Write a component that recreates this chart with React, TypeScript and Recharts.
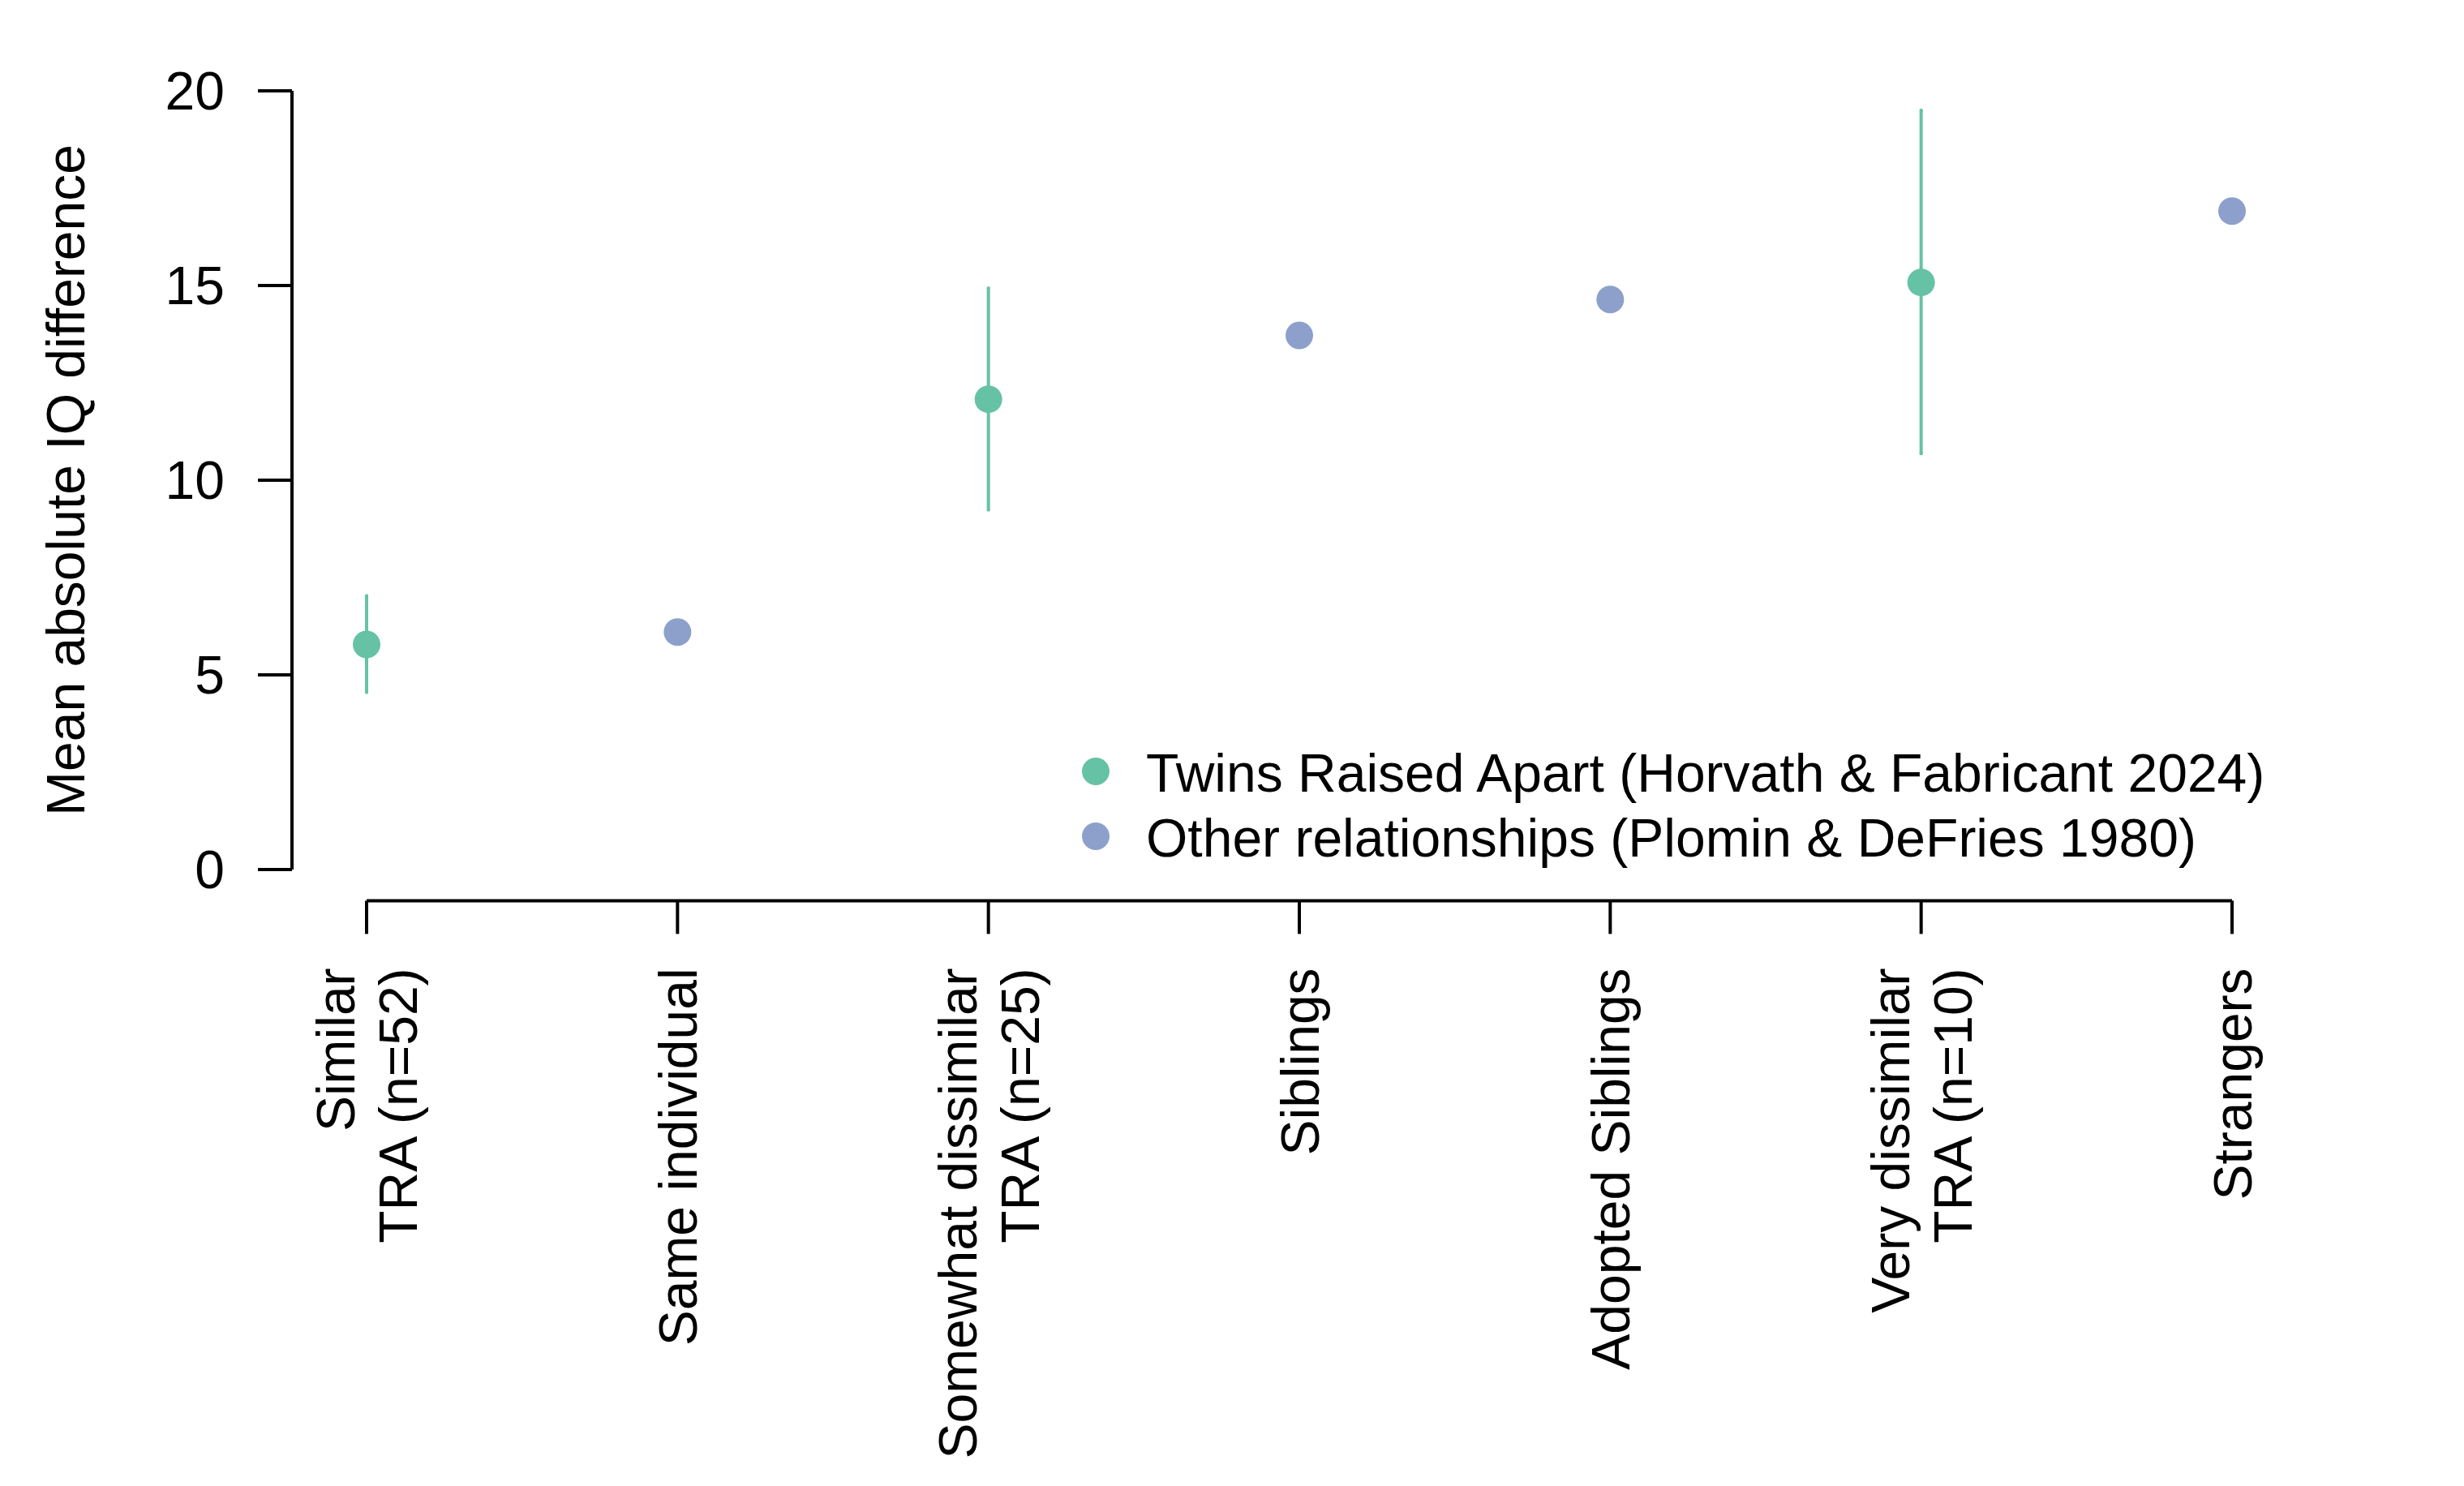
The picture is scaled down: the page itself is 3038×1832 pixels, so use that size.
import {
  ErrorBar,
  Legend,
  ReferenceLine,
  Scatter,
  ScatterChart,
  XAxis,
  YAxis,
} from "recharts";

// Categories along the x axis (multi-line labels split on "\n").
const categories = [
  "Similar\nTRA (n=52)",
  "Same individual",
  "Somewhat dissimilar\nTRA (n=25)",
  "Siblings",
  "Adopted Siblings",
  "Very dissimilar\nTRA (n=10)",
  "Strangers",
];

// Twins raised apart: mean absolute IQ difference with interval.
const twinIndex = [0, 2, 5];
const twinMean = [5.78, 12.08, 15.08];
const twinLow = [4.55, 9.24, 10.68];
const twinHigh = [7.03, 14.93, 19.5];

// Other relationships (Plomin & DeFries 1980).
const otherIndex = [1, 3, 4, 6];
const otherMean = [6.1, 13.72, 14.64, 16.91];

const yTicks = [0, 5, 10, 15, 20];

const seriesNames = [
  "Twins Raised Apart (Horvath & Fabricant 2024)",
  "Other relationships (Plomin & DeFries 1980)",
];

const GREEN = "#66c2a5";
const BLUE = "#8da0cb";
const seriesColors = [GREEN, BLUE];
const FONT = "'Liberation Sans', Arial, Helvetica, sans-serif";
const FONT_SIZE = 66;

const twinData = twinIndex.map((x, i) => ({
  x,
  y: twinMean[i],
  err: [twinMean[i] - twinLow[i], twinHigh[i] - twinMean[i]],
}));
const otherData = otherIndex.map((x, i) => ({ x, y: otherMean[i] }));

const xTickValues = categories.map((_, i) => i);

function CategoryTick({ x, y, payload }: { x: number; y: number; payload: { value: number } }) {
  const lines = categories[payload.value].split("\n");
  const spacing = 77;
  const start = (-(lines.length - 1) * spacing) / 2;
  return (
    <g transform={`translate(${x},${y}) rotate(-90)`}>
      {lines.map((line, i) => (
        <text
          key={i}
          x={0}
          y={start + i * spacing + FONT_SIZE * 0.358}
          textAnchor="end"
          fontFamily={FONT}
          fontSize={FONT_SIZE}
          fill="#000"
        >
          {line}
        </text>
      ))}
    </g>
  );
}

function YLabel({ viewBox }: { viewBox?: { x: number; y: number; width: number; height: number } }) {
  const cy = viewBox ? viewBox.y + viewBox.height / 2 : 591;
  const bx = 104;
  return (
    <text
      x={bx}
      y={cy}
      transform={`rotate(-90 ${bx} ${cy})`}
      textAnchor="middle"
      fontFamily={FONT}
      fontSize={FONT_SIZE}
      fill="#000"
    >
      Mean absolute IQ difference
    </text>
  );
}

// Legend keeps the series order of the original figure.
function LegendBox() {
  return (
    <div style={{ fontFamily: FONT, fontSize: FONT_SIZE, color: "#000" }}>
      {seriesNames.map((name, i) => (
        <div key={name} style={{ display: "flex", alignItems: "center", height: 80, lineHeight: "80px", whiteSpace: "nowrap" }}>
          <span
            style={{
              display: "inline-block",
              width: 34,
              height: 34,
              borderRadius: "50%",
              background: seriesColors[i],
              marginRight: 45,
            }}
          />
          <span style={{ position: "relative", top: 2 }}>{name}</span>
        </div>
      ))}
    </div>
  );
}

const dot = (fill: string) => (props: { cx?: number; cy?: number }) =>
  <circle cx={props.cx} cy={props.cy} r={17} fill={fill} />;

export default function App() {
  return (
    <div style={{ position: "absolute", left: 0, top: 0, width: 3038, height: 1832, background: "#fff" }}>
      <ScatterChart
        width={3038}
        height={1832}
        margin={{ top: 73.6, right: 194, bottom: 0, left: 0 }}
      >
        <XAxis
          type="number"
          dataKey="x"
          domain={[-0.24, 6.24]}
          ticks={xTickValues}
          allowDataOverflow
          height={721.6}
          axisLine={false}
          tickSize={41}
          tickMargin={42}
          tickLine={{ stroke: "#000", strokeWidth: 4 }}
          tick={CategoryTick as any}
          interval={0}
        />
        <YAxis
          type="number"
          dataKey="y"
          domain={[-0.8, 20.8]}
          ticks={yTicks}
          allowDataOverflow
          width={360}
          axisLine={false}
          tickSize={42}
          tickMargin={41}
          tickLine={{ stroke: "#000", strokeWidth: 4 }}
          tick={{ fill: "#000", fontSize: FONT_SIZE, fontFamily: FONT }}
          label={{ content: YLabel as any }}
        />
        <ReferenceLine
          segment={[{ x: -0.24, y: 0 }, { x: -0.24, y: 20 }]}
          stroke="#000"
          strokeWidth={4}
          ifOverflow="visible"
        />
        <ReferenceLine
          segment={[{ x: 0, y: -0.8 }, { x: 6, y: -0.8 }]}
          stroke="#000"
          strokeWidth={4}
          ifOverflow="visible"
        />
        <Legend
          layout="horizontal"
          verticalAlign="middle"
          align="center"
          content={LegendBox as any}
          wrapperStyle={{ position: "absolute", left: 1334, top: 911, width: "auto", height: "auto" }}
        />
        <Scatter
          name={seriesNames[0]}
          data={twinData}
          fill={GREEN}
          shape={dot(GREEN)}
          isAnimationActive={false}
        >
          <ErrorBar
            dataKey="err"
            direction="y"
            width={0}
            stroke={GREEN}
            strokeWidth={4}
            strokeLinecap="round"
            isAnimationActive={false}
          />
        </Scatter>
        <Scatter
          name={seriesNames[1]}
          data={otherData}
          fill={BLUE}
          shape={dot(BLUE)}
          isAnimationActive={false}
        />
      </ScatterChart>
    </div>
  );
}
